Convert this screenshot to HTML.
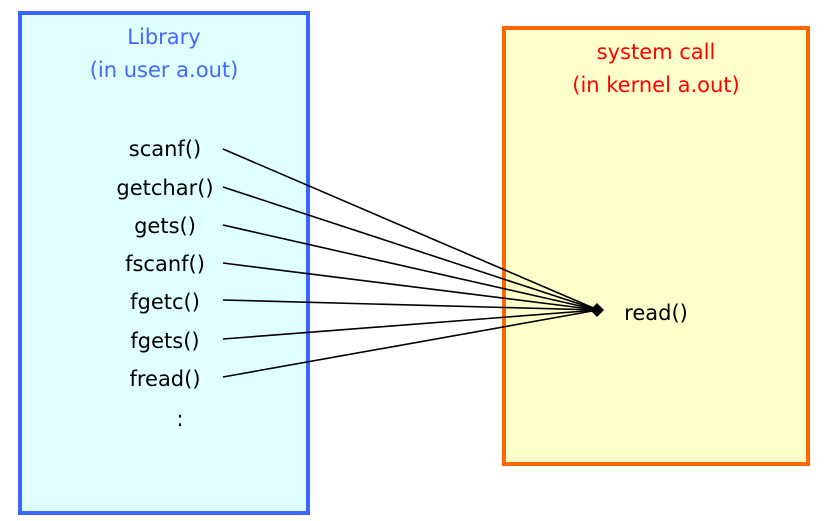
<!DOCTYPE html>
<html><head><meta charset="utf-8"><style>
html,body{margin:0;padding:0;background:#fff;width:837px;height:521px;overflow:hidden}
svg{display:block}
text{font-family:"DejaVu Sans","Liberation Sans",sans-serif;font-size:21px}
</style></head><body>
<svg width="837" height="521" viewBox="0 0 837 521" xmlns="http://www.w3.org/2000/svg">
<rect x="20" y="13" width="288" height="500" fill="#e0ffff" stroke="#3a66ff" stroke-width="4"/>
<rect x="504" y="28" width="304" height="436" fill="#ffffcc" stroke="#ff6600" stroke-width="4"/>
<g fill="#4466ff" text-anchor="middle">
<text x="164" y="44">Library</text>
<text x="164" y="77">(in user a.out)</text>
</g>
<g fill="#ff0000" text-anchor="middle">
<text x="656" y="59">system call</text>
<text x="656" y="92">(in kernel a.out)</text>
</g>
<g fill="#000" text-anchor="middle">
<text x="165" y="156">scanf()</text>
<text x="165" y="195">getchar()</text>
<text x="165" y="233">gets()</text>
<text x="165" y="271">fscanf()</text>
<text x="165" y="309">fgetc()</text>
<text x="165" y="348">fgets()</text>
<text x="165" y="386">fread()</text>
<text x="180" y="426">:</text>
<text x="656" y="320">read()</text>
</g>
<g stroke="#000" stroke-width="1.6">
<line x1="223" y1="149" x2="598" y2="310"/>
<line x1="223" y1="187" x2="598" y2="310"/>
<line x1="223" y1="225" x2="598" y2="310"/>
<line x1="223" y1="263" x2="598" y2="310"/>
<line x1="223" y1="300" x2="598" y2="310"/>
<line x1="223" y1="339" x2="598" y2="310"/>
<line x1="223" y1="377" x2="598" y2="310"/>
</g>
<polygon points="604,310 597,303 590,310 597,317" fill="#000"/>
</svg>
</body></html>
